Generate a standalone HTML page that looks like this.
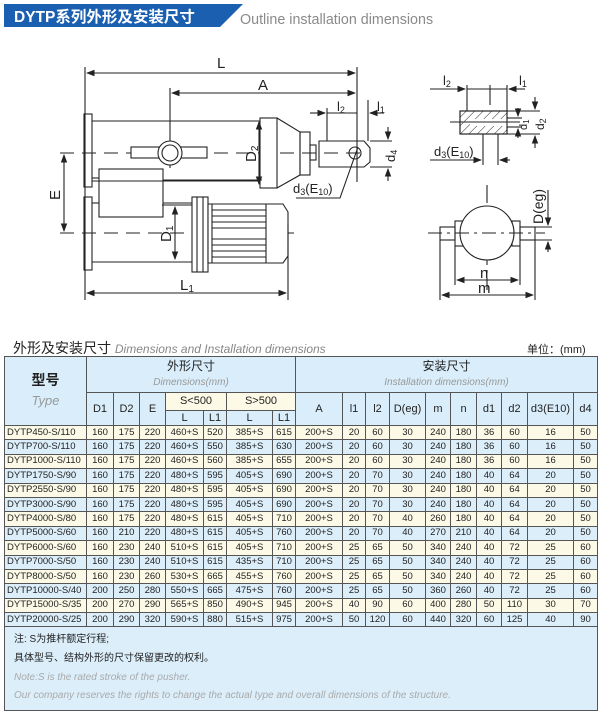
<!DOCTYPE html>
<html><head><meta charset="utf-8">
<style>
body{margin:0;width:600px;height:718px;background:#fff;position:relative;overflow:hidden;font-family:"Liberation Sans","Noto Sans CJK SC",sans-serif;}
.abs{position:absolute;}
table{position:absolute;left:4px;top:356px;border-collapse:collapse;table-layout:fixed;width:593px;}
td{border:1px solid #555;text-align:center;font-size:9.5px;color:#222;padding:0;line-height:10px;overflow:hidden;white-space:nowrap;}
tr.c td,tr.b td{height:13.4px;}
tr.c td{background:#fcfae6;}
tr.b td{background:#dbeefa;}
td.t{text-align:left;padding-left:2px;font-size:9.5px;}
.h td{background:#d9eefa;line-height:13px;}
td.y{background:#fcfae6!important;}
td.note{background:#dbeefa;height:83px;position:relative;text-align:left;}
</style></head><body>
<svg class="abs" style="left:0;top:0" width="600" height="40">
<polygon points="4,4 243,4 220,27 4,27" fill="#1a5fb0"/>
<text x="14" y="22" font-family="Liberation Sans,Noto Sans CJK SC,sans-serif" font-weight="bold" font-size="15.5" fill="#fff">DYTP系列外形及安装尺寸</text>
<text x="240" y="24" font-family="Liberation Sans,sans-serif" font-size="14.3" fill="#8a8a8a">Outline installation dimensions</text>
</svg>
<svg class="abs" style="left:0;top:40" width="600" height="270" viewBox="0 40 600 270" fill="none" stroke="#222" stroke-width="1.1" font-family="Liberation Sans,sans-serif">
<defs><marker id="a" markerWidth="8" markerHeight="6" refX="7" refY="3" orient="auto-start-reverse"><path d="M0,0L8,3L0,6z" fill="#222" stroke="none"/></marker></defs>
<line x1="85" y1="67" x2="85" y2="300"/><line x1="357" y1="67" x2="357" y2="182"/>
<line x1="87" y1="73" x2="355" y2="73" marker-start="url(#a)" marker-end="url(#a)"/>
<line x1="170" y1="88" x2="170" y2="168"/>
<line x1="172" y1="93" x2="355" y2="93" marker-start="url(#a)" marker-end="url(#a)"/>
<g fill="#222" stroke="none" font-size="15"><text x="217" y="68">L</text><text x="258" y="90">A</text><text x="180" y="290">L<tspan font-size="10" dy="2">1</tspan></text></g>
<rect x="84" y="114" width="8" height="73"/>
<line x1="92" y1="121" x2="262" y2="121"/><line x1="92" y1="181" x2="262" y2="181"/>
<line x1="60" y1="153" x2="360" y2="153" stroke-dasharray="14,8"/>
<rect x="131" y="147" width="76" height="11" fill="#fff"/>
<circle cx="170" cy="153" r="12" fill="#fff"/><circle cx="170" cy="153" r="8"/>
<rect x="260" y="118" width="17" height="70" fill="#fff"/>
<line x1="259" y1="122" x2="259" y2="184" marker-start="url(#a)" marker-end="url(#a)"/>
<text x="0" y="0" fill="#222" stroke="none" font-size="15" transform="translate(256,162) rotate(-90)">D<tspan font-size="10" dy="2">2</tspan></text>
<path d="M277,118 L300,132 L300,175 L277,188"/>
<rect x="300" y="132" width="10" height="43"/><rect x="310" y="145" width="6" height="15"/>
<path d="M319,141 L364,141 L370,148 L370,162 L364,167 L319,167 Z"/>
<circle cx="355" cy="153" r="6"/>
<line x1="327" y1="108" x2="327" y2="141"/><line x1="368" y1="100" x2="368" y2="141"/>
<line x1="310" y1="113" x2="325" y2="113" marker-end="url(#a)"/><line x1="327" y1="113" x2="357" y2="113"/><line x1="384" y1="113" x2="370" y2="113" marker-end="url(#a)"/>
<g fill="#222" stroke="none" font-size="13"><text x="337" y="111">l<tspan font-size="9" dy="2">2</tspan></text><text x="377" y="111">l<tspan font-size="9" dy="2">1</tspan></text>
<text x="293" y="193">d<tspan font-size="9" dy="2">3</tspan><tspan dy="-2">(E</tspan><tspan font-size="9" dy="2">10</tspan><tspan dy="-2">)</tspan></text></g>
<line x1="370" y1="141" x2="392" y2="141"/><line x1="370" y1="167" x2="392" y2="167"/>
<line x1="388" y1="127" x2="388" y2="139" marker-end="url(#a)"/><line x1="388" y1="181" x2="388" y2="169" marker-end="url(#a)"/>
<text x="0" y="0" fill="#222" stroke="none" font-size="13" transform="translate(395,162) rotate(-90)">d<tspan font-size="9" dy="2">4</tspan></text>
<path d="M296,198 L340,198 L358,147"/>
<rect x="84" y="197" width="8" height="73"/>
<line x1="92" y1="178" x2="99" y2="178"/><line x1="92" y1="203" x2="99" y2="203"/>
<rect x="99" y="169" width="64" height="48"/>
<line x1="163" y1="180" x2="262" y2="180"/>
<line x1="163" y1="203" x2="195" y2="203"/><line x1="92" y1="262" x2="195" y2="262"/>
<line x1="60" y1="233" x2="295" y2="233" stroke-dasharray="14,8"/>
<rect x="192" y="197" width="16" height="75" fill="#fff"/><line x1="197" y1="197" x2="197" y2="272"/><line x1="203" y1="197" x2="203" y2="272"/>
<path d="M208,204 L283,204 L288,212 L288,256 L283,263 L208,263 Z" fill="#fff"/>
<line x1="212" y1="204" x2="212" y2="263"/><line x1="266" y1="204" x2="266" y2="263"/>
<g stroke-width="0.9"><line x1="212" y1="210" x2="266" y2="210"/><line x1="212" y1="216" x2="266" y2="216"/><line x1="212" y1="222" x2="266" y2="222"/><line x1="212" y1="228" x2="266" y2="228"/><line x1="212" y1="239" x2="266" y2="239"/><line x1="212" y1="245" x2="266" y2="245"/><line x1="212" y1="251" x2="266" y2="251"/><line x1="212" y1="257" x2="266" y2="257"/></g>
<line x1="288" y1="225" x2="288" y2="300"/>
<line x1="175" y1="207" x2="175" y2="259" marker-start="url(#a)" marker-end="url(#a)"/>
<line x1="162" y1="205" x2="192" y2="205"/>
<text x="0" y="0" fill="#222" stroke="none" font-size="15" transform="translate(171,242) rotate(-90)">D<tspan font-size="10" dy="2">1</tspan></text>
<line x1="64" y1="155" x2="64" y2="231" marker-start="url(#a)" marker-end="url(#a)"/>
<text x="0" y="0" fill="#222" stroke="none" font-size="15" transform="translate(60,200) rotate(-90)">E</text>
<line x1="87" y1="293" x2="286" y2="293" marker-start="url(#a)" marker-end="url(#a)"/>
<defs><pattern id="h" width="6" height="6" patternUnits="userSpaceOnUse" patternTransform="rotate(45)"><line x1="0" y1="0" x2="0" y2="6" stroke="#222" stroke-width="1"/></pattern></defs>
<rect x="460" y="111" width="47" height="23" fill="url(#h)"/>
<rect x="470" y="119" width="40" height="7" fill="#fff" stroke="none"/>
<rect x="460" y="111" width="47" height="23"/>
<line x1="450" y1="122" x2="520" y2="122"/>
<line x1="467" y1="85" x2="467" y2="111"/><line x1="507" y1="85" x2="507" y2="111"/><line x1="490" y1="85" x2="490" y2="105"/>
<line x1="430" y1="89" x2="465" y2="89" marker-end="url(#a)"/><line x1="467" y1="89" x2="507" y2="89"/><line x1="525" y1="89" x2="509" y2="89" marker-end="url(#a)"/>
<g fill="#222" stroke="none" font-size="13"><text x="443" y="85">l<tspan font-size="9" dy="2">2</tspan></text><text x="519" y="85">l<tspan font-size="9" dy="2">1</tspan></text>
<text x="434" y="156">d<tspan font-size="9" dy="2">3</tspan><tspan dy="-2">(E</tspan><tspan font-size="9" dy="2">10</tspan><tspan dy="-2">)</tspan></text></g>
<line x1="507" y1="111" x2="540" y2="111"/><line x1="507" y1="134" x2="540" y2="134"/><line x1="507" y1="118" x2="522" y2="118"/><line x1="507" y1="127" x2="522" y2="127"/>
<line x1="535" y1="97" x2="535" y2="109" marker-end="url(#a)"/><line x1="535" y1="148" x2="535" y2="136" marker-end="url(#a)"/>
<line x1="518" y1="108" x2="518" y2="116" marker-end="url(#a)"/><line x1="518" y1="138" x2="518" y2="129" marker-end="url(#a)"/>
<text x="0" y="0" fill="#222" stroke="none" font-size="12" transform="translate(544,130) rotate(-90)">d<tspan font-size="9" dy="2">2</tspan></text>
<text x="0" y="0" fill="#222" stroke="none" font-size="11" transform="translate(527,130) rotate(-90)">d<tspan font-size="8" dy="2">1</tspan></text>
<line x1="483" y1="134" x2="483" y2="165"/><line x1="498" y1="134" x2="498" y2="165"/>
<line x1="430" y1="160" x2="481" y2="160" marker-end="url(#a)"/><line x1="510" y1="160" x2="500" y2="160" marker-end="url(#a)"/>
<line x1="487" y1="185" x2="487" y2="290" stroke-dasharray="18,5,3,5"/>
<rect x="440" y="227" width="15" height="13"/><rect x="520" y="227" width="15" height="13"/>
<rect x="455" y="221" width="8" height="25"/><rect x="512" y="221" width="8" height="25"/>
<circle cx="487" cy="233" r="27" fill="#fff"/>
<line x1="428" y1="233" x2="545" y2="233" stroke-dasharray="14,5,3,5"/>
<line x1="455" y1="246" x2="455" y2="285"/><line x1="520" y1="246" x2="520" y2="285"/>
<line x1="440" y1="240" x2="440" y2="300"/><line x1="535" y1="240" x2="535" y2="300"/>
<line x1="457" y1="280" x2="518" y2="280" marker-start="url(#a)" marker-end="url(#a)"/>
<line x1="442" y1="295" x2="533" y2="295" marker-start="url(#a)" marker-end="url(#a)"/>
<g fill="#222" stroke="none" font-size="15"><text x="480" y="278">n</text><text x="478" y="293">m</text></g>
<line x1="535" y1="227" x2="552" y2="227"/><line x1="535" y1="240" x2="552" y2="240"/>
<line x1="548" y1="190" x2="548" y2="225" marker-end="url(#a)"/><line x1="548" y1="252" x2="548" y2="242" marker-end="url(#a)"/>
<text x="0" y="0" fill="#222" stroke="none" font-size="14" transform="translate(543,224) rotate(-90)">D(eg)</text>
</svg>
<div class="abs" style="left:13px;top:338px;font-size:14px;color:#222;">外形及安装尺寸 <span style="font-style:italic;color:#888;font-size:12px;">Dimensions and Installation dimensions</span></div>
<div class="abs" style="left:527px;top:341px;font-size:11px;color:#222;">单位：(mm)</div>
<table>
<colgroup><col style="width:82px"><col style="width:27px"><col style="width:26px"><col style="width:26px"><col style="width:38px"><col style="width:23px"><col style="width:46px"><col style="width:23px"><col style="width:47px"><col style="width:23px"><col style="width:24px"><col style="width:36px"><col style="width:25px"><col style="width:26px"><col style="width:25px"><col style="width:26px"><col style="width:46px"><col style="width:24px"></colgroup>
<tr class="h"><td rowspan="3" style="height:68px;vertical-align:middle;line-height:18px"><span style="font-size:14px;font-weight:bold">型号</span><br><span style="font-style:italic;color:#999;font-size:13px">Type</span></td>
<td colspan="7" style="height:35px;line-height:15px"><span style="font-size:12px">外形尺寸</span><br><span style="font-style:italic;color:#999;font-size:10px">Dimensions(mm)</span></td>
<td colspan="10" style="line-height:15px"><span style="font-size:12px">安装尺寸</span><br><span style="font-style:italic;color:#999;font-size:10px">Installation dimensions(mm)</span></td></tr>
<tr class="h"><td rowspan="2" style="font-size:11px">D1</td><td rowspan="2" style="font-size:11px">D2</td><td rowspan="2" style="font-size:11px">E</td><td colspan="2" class="y" style="font-size:11px;height:17px">S&lt;500</td><td colspan="2" class="y" style="font-size:11px">S&gt;500</td>
<td rowspan="2" style="font-size:11px">A</td><td rowspan="2" style="font-size:11px">l1</td><td rowspan="2" style="font-size:11px">l2</td><td rowspan="2" style="font-size:11px">D(eg)</td><td rowspan="2" style="font-size:11px">m</td><td rowspan="2" style="font-size:11px">n</td><td rowspan="2" style="font-size:11px">d1</td><td rowspan="2" style="font-size:11px">d2</td><td rowspan="2" style="font-size:11px">d3(E10)</td><td rowspan="2" style="font-size:11px">d4</td></tr>
<tr class="h"><td style="font-size:11px;height:14px">L</td><td style="font-size:11px">L1</td><td style="font-size:11px">L</td><td style="font-size:11px">L1</td></tr>
<tr class="c"><td class="t">DYTP450-S/110</td><td>160</td><td>175</td><td>220</td><td>460+S</td><td>520</td><td>385+S</td><td>615</td><td>200+S</td><td>20</td><td>60</td><td>30</td><td>240</td><td>180</td><td>36</td><td>60</td><td>16</td><td>50</td></tr>
<tr class="b"><td class="t">DYTP700-S/110</td><td>160</td><td>175</td><td>220</td><td>460+S</td><td>550</td><td>385+S</td><td>630</td><td>200+S</td><td>20</td><td>60</td><td>30</td><td>240</td><td>180</td><td>36</td><td>60</td><td>16</td><td>50</td></tr>
<tr class="c"><td class="t">DYTP1000-S/110</td><td>160</td><td>175</td><td>220</td><td>460+S</td><td>560</td><td>385+S</td><td>655</td><td>200+S</td><td>20</td><td>60</td><td>30</td><td>240</td><td>180</td><td>36</td><td>60</td><td>16</td><td>50</td></tr>
<tr class="b"><td class="t">DYTP1750-S/90</td><td>160</td><td>175</td><td>220</td><td>480+S</td><td>595</td><td>405+S</td><td>690</td><td>200+S</td><td>20</td><td>70</td><td>30</td><td>240</td><td>180</td><td>40</td><td>64</td><td>20</td><td>50</td></tr>
<tr class="c"><td class="t">DYTP2550-S/90</td><td>160</td><td>175</td><td>220</td><td>480+S</td><td>595</td><td>405+S</td><td>690</td><td>200+S</td><td>20</td><td>70</td><td>30</td><td>240</td><td>180</td><td>40</td><td>64</td><td>20</td><td>50</td></tr>
<tr class="b"><td class="t">DYTP3000-S/90</td><td>160</td><td>175</td><td>220</td><td>480+S</td><td>595</td><td>405+S</td><td>690</td><td>200+S</td><td>20</td><td>70</td><td>30</td><td>240</td><td>180</td><td>40</td><td>64</td><td>20</td><td>50</td></tr>
<tr class="c"><td class="t">DYTP4000-S/80</td><td>160</td><td>175</td><td>220</td><td>480+S</td><td>615</td><td>405+S</td><td>710</td><td>200+S</td><td>20</td><td>70</td><td>40</td><td>260</td><td>180</td><td>40</td><td>64</td><td>20</td><td>50</td></tr>
<tr class="b"><td class="t">DYTP5000-S/60</td><td>160</td><td>210</td><td>220</td><td>480+S</td><td>615</td><td>405+S</td><td>760</td><td>200+S</td><td>20</td><td>70</td><td>40</td><td>270</td><td>210</td><td>40</td><td>64</td><td>20</td><td>50</td></tr>
<tr class="c"><td class="t">DYTP6000-S/60</td><td>160</td><td>230</td><td>240</td><td>510+S</td><td>615</td><td>405+S</td><td>710</td><td>200+S</td><td>25</td><td>65</td><td>50</td><td>340</td><td>240</td><td>40</td><td>72</td><td>25</td><td>60</td></tr>
<tr class="b"><td class="t">DYTP7000-S/50</td><td>160</td><td>230</td><td>240</td><td>510+S</td><td>615</td><td>435+S</td><td>710</td><td>200+S</td><td>25</td><td>65</td><td>50</td><td>340</td><td>240</td><td>40</td><td>72</td><td>25</td><td>60</td></tr>
<tr class="c"><td class="t">DYTP8000-S/50</td><td>160</td><td>230</td><td>260</td><td>530+S</td><td>665</td><td>455+S</td><td>760</td><td>200+S</td><td>25</td><td>65</td><td>50</td><td>340</td><td>240</td><td>40</td><td>72</td><td>25</td><td>60</td></tr>
<tr class="b"><td class="t">DYTP10000-S/40</td><td>200</td><td>250</td><td>280</td><td>550+S</td><td>665</td><td>475+S</td><td>760</td><td>200+S</td><td>25</td><td>65</td><td>50</td><td>360</td><td>260</td><td>40</td><td>72</td><td>25</td><td>60</td></tr>
<tr class="c"><td class="t">DYTP15000-S/35</td><td>200</td><td>270</td><td>290</td><td>565+S</td><td>850</td><td>490+S</td><td>945</td><td>200+S</td><td>40</td><td>90</td><td>60</td><td>400</td><td>280</td><td>50</td><td>110</td><td>30</td><td>70</td></tr>
<tr class="b"><td class="t">DYTP20000-S/25</td><td>200</td><td>290</td><td>320</td><td>590+S</td><td>880</td><td>515+S</td><td>975</td><td>200+S</td><td>50</td><td>120</td><td>60</td><td>440</td><td>320</td><td>60</td><td>125</td><td>40</td><td>90</td></tr>
<tr><td colspan="18" class="note">
<div class="abs" style="left:9px;top:7px;font-size:10px;line-height:12px;color:#222">注: S为推杆额定行程;</div>
<div class="abs" style="left:9px;top:26px;font-size:10px;line-height:12px;color:#222">具体型号、结构外形的尺寸保留更改的权利。</div>
<div class="abs" style="left:9px;top:45px;font-size:10px;line-height:12px;color:#aaa;font-style:italic">Note:S is the rated stroke of the pusher.</div>
<div class="abs" style="left:9px;top:63px;font-size:10px;line-height:12px;color:#aaa;font-style:italic">Our company reserves the rights to change the actual type and overall dimensions of the structure.</div>
</td></tr>
</table>
</body></html>
